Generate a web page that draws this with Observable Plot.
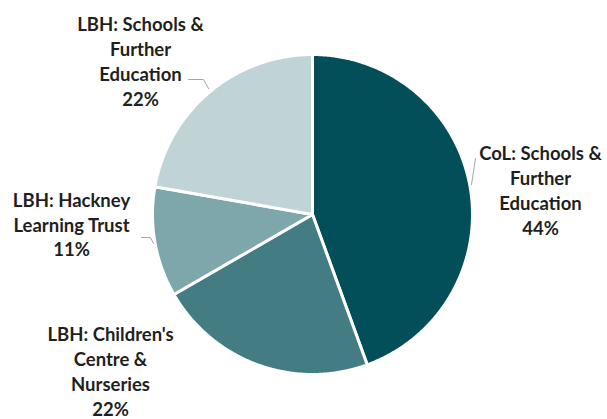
<!DOCTYPE html>
<html>
<head>
<meta charset="utf-8">
<script src="https://cdn.jsdelivr.net/npm/d3@7"></script>
<script src="https://cdn.jsdelivr.net/npm/@observablehq/plot@0.6"></script>
<style>
  html, body { margin: 0; padding: 0; background: #ffffff; }
  #chart { width: 607px; height: 419px; }
</style>
</head>
<body>
<div id="chart"></div>
<script>
const categories = [
  "CoL: Schools & Further Education",
  "LBH: Children's Centre & Nurseries",
  "LBH: Hackney Learning Trust",
  "LBH: Schools & Further Education"
];
const shares = [44.4, 22.2, 11.1, 22.2];
const labelTexts = [
  "CoL: Schools &\nFurther\nEducation\n44%",
  "LBH: Children's\nCentre &\nNurseries\n22%",
  "LBH: Hackney\nLearning Trust\n11%",
  "LBH: Schools &\nFurther\nEducation\n22%"
];
const colors = ["#024e59", "#437c82", "#7ea7ac", "#c0d4d8"];

// layout (pixels)
const W = 607, H = 419;
const cx = 312, cy = 214, r = 160;
const labelPos = [[540, 189], [110, 370], [71, 223], [140, 60]];
const leaders = [
  [[475, 158], [471, 184]],
  [],
  [[141, 237], [150, 237], [153, 243]],
  [[188, 79], [203, 79], [208, 88]]
];

const total = d3.sum(shares);
let acc = 0;
const slices = categories.map((c, i) => {
  const a0 = acc / total * 2 * Math.PI;
  acc += shares[i];
  const a1 = acc / total * 2 * Math.PI;
  const n = Math.max(2, Math.ceil((a1 - a0) / (Math.PI / 360)));
  const ring = [[cx, cy]];
  for (let k = 0; k <= n; k++) {
    const a = a0 + (a1 - a0) * k / n;
    ring.push([cx + r * Math.sin(a), cy - r * Math.cos(a)]);
  }
  ring.push([cx, cy]);
  return {type: "Feature", properties: {category: c}, geometry: {type: "Polygon", coordinates: [ring]}};
});

const labels = categories.map((c, i) => ({text: labelTexts[i], x: labelPos[i][0], y: labelPos[i][1]}));
const leaderPts = leaders.flatMap((pts, i) => pts.map(p => ({id: i, x: p[0], y: p[1]})));

const chart = Plot.plot({
  width: W,
  height: H,
  margin: 0,
  projection: {type: "identity", domain: {type: "MultiPoint", coordinates: [[0, 0], [W, H]]}},
  color: {domain: categories, range: colors},
  marks: [
    Plot.geo(slices, {fill: d => d.properties.category, stroke: "white", strokeWidth: 3, strokeLinejoin: "round"}),
    Plot.line(leaderPts, {x: "x", y: "y", z: "id", stroke: "#a6a6a6", strokeWidth: 1, curve: "linear"}),
    Plot.text(labels, {
      x: "x", y: "y", text: "text",
      fontSize: 18.5, fontWeight: "bold", fill: "#1f1f1f",
      lineHeight: 1.35, textAnchor: "middle", lineAnchor: "middle",
      fontFamily: "Lato, 'Open Sans', sans-serif"
    })
  ],
  style: {background: "#ffffff", fontFamily: "Lato, sans-serif"}
});
document.getElementById("chart").appendChild(chart);
</script>
</body>
</html>
